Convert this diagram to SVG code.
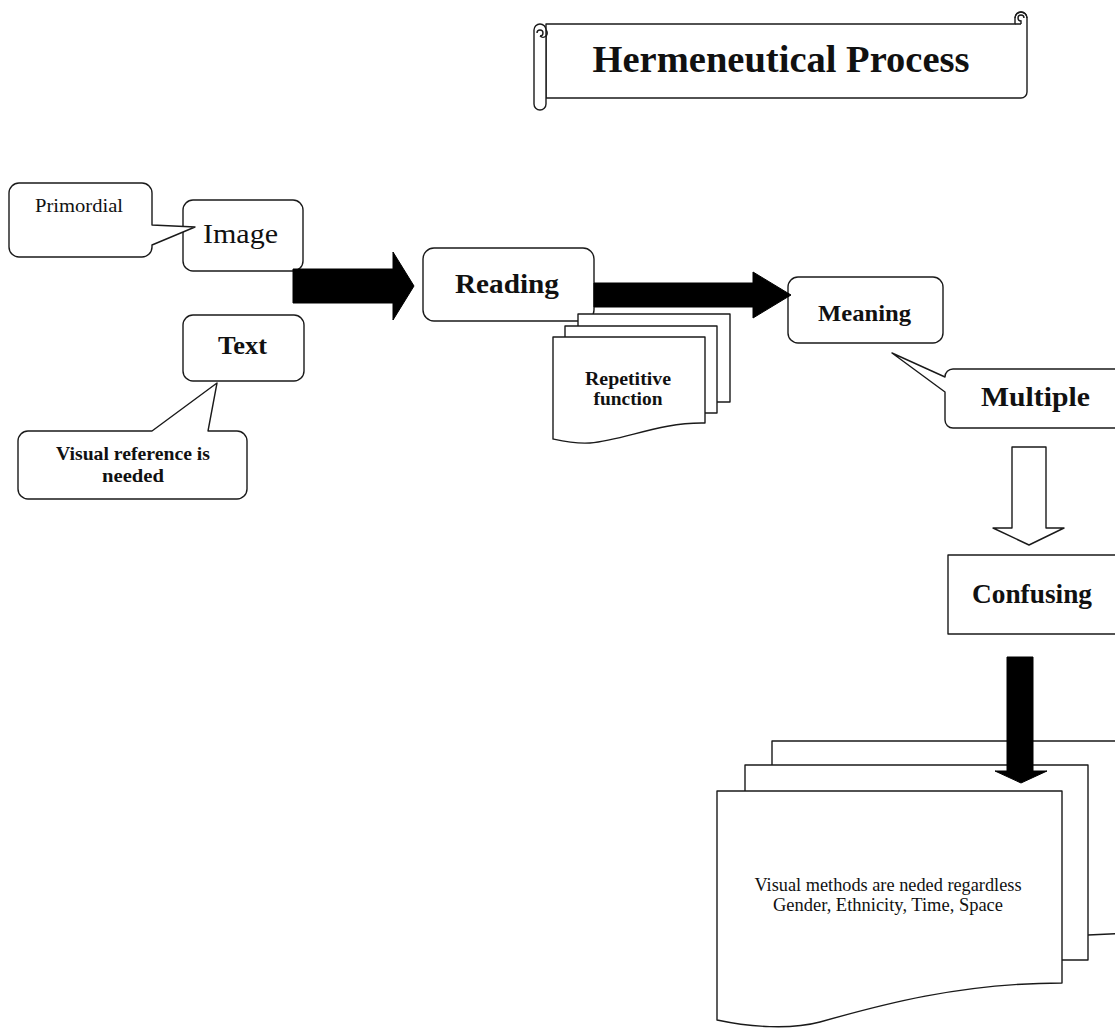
<svg xmlns="http://www.w3.org/2000/svg" width="1115" height="1028" viewBox="0 0 1115 1028">
<style>
.sh{fill:#fff;stroke:#1a1a1a;stroke-width:1.4;stroke-linejoin:round}
.ln{fill:none;stroke:#1a1a1a;stroke-width:1.4}
.t{font-family:"Liberation Serif","Times New Roman",serif;fill:#111;text-anchor:middle}
.b{font-weight:bold}
.blk{fill:#000;stroke:#000;stroke-width:1}
</style>
<rect width="1115" height="1028" fill="#fff"/>
<g id="title">
  <path class="sh" d="M546,24 H1015 V18 A6,6 0 0 1 1027,18 V92 A6,6 0 0 1 1021,98 H546 Z"/>
  <path class="ln" d="M1015,18 A6,6 0 0 1 1027,18 M1021,24 V21 A3,3 0 1 1 1024,18 M1015,24 H1021"/>
  <path class="sh" d="M534,30 A6,6 0 0 1 546,30 V104 A6,6 0 0 1 534,104 Z"/>
  <path class="ln" d="M540,36 A3,3 0 1 0 537,33 M540,36 A3,3 0 0 0 546,30"/>
  <text class="t b" x="781" y="72" font-size="38" textLength="377" lengthAdjust="spacingAndGlyphs">Hermeneutical Process</text>
</g>
<g id="image">
  <rect class="sh" x="183" y="200" width="120" height="71" rx="10"/>
  <text class="t" x="240.5" y="243" font-size="28" textLength="75" lengthAdjust="spacingAndGlyphs">Image</text>
</g>
<g id="primordial">
  <path class="sh" d="M19,183 H142 A10,10 0 0 1 152,193 V225 L195,227 L152,245 V247 A10,10 0 0 1 142,257 H19 A10,10 0 0 1 9,247 V193 A10,10 0 0 1 19,183 Z"/>
  <text class="t" x="79" y="212" font-size="19" textLength="88" lengthAdjust="spacingAndGlyphs">Primordial</text>
</g>
<g id="text">
  <rect class="sh" x="183" y="315" width="121" height="66" rx="10"/>
  <text class="t b" x="242.5" y="354" font-size="25" textLength="49" lengthAdjust="spacingAndGlyphs">Text</text>
</g>
<g id="visual-reference">
  <path class="sh" d="M28,431 H152 L217,383 L208,431 H237 A10,10 0 0 1 247,441 V489 A10,10 0 0 1 237,499 H28 A10,10 0 0 1 18,489 V441 A10,10 0 0 1 28,431 Z"/>
  <text class="t b" x="133" y="460" font-size="19" textLength="154" lengthAdjust="spacingAndGlyphs">Visual reference is</text>
  <text class="t b" x="133" y="482" font-size="19" textLength="62" lengthAdjust="spacingAndGlyphs">needed</text>
</g>
<g id="reading">
  <rect class="sh" x="423" y="248" width="171" height="73" rx="11"/>
  <text class="t b" x="507" y="293" font-size="27" textLength="104" lengthAdjust="spacingAndGlyphs">Reading</text>
</g>
<g id="repetitive">
  <rect class="sh" x="578" y="314" width="152" height="88"/>
  <rect class="sh" x="565" y="326" width="152" height="87"/>
  <path class="sh" d="M553,337 H705 V423 C660,422 625,440 590,443 C575,444 562,441 553,439 Z"/>
  <text class="t b" x="628" y="385" font-size="18" textLength="86" lengthAdjust="spacingAndGlyphs">Repetitive</text>
  <text class="t b" x="628" y="405" font-size="18" textLength="69" lengthAdjust="spacingAndGlyphs">function</text>
</g>
<g id="meaning">
  <rect class="sh" x="788" y="277" width="155" height="66" rx="10"/>
  <text class="t b" x="864.5" y="321" font-size="23" textLength="93" lengthAdjust="spacingAndGlyphs">Meaning</text>
</g>
<g id="multiple">
  <path class="sh" d="M953,369 H1130 V428 H953 A8,8 0 0 1 945,420 V392 L892,353 L945,377 A8,8 0 0 1 953,369 Z"/>
  <text class="t b" x="1035.5" y="406" font-size="27" textLength="109" lengthAdjust="spacingAndGlyphs">Multiple</text>
</g>
<g id="confusing">
  <rect class="sh" x="948" y="555" width="180" height="79"/>
  <text class="t b" x="1032" y="603" font-size="27.5" textLength="120" lengthAdjust="spacingAndGlyphs">Confusing</text>
</g>
<g id="visual-methods">
  <path class="sh" d="M772,741 H1130 V933 L1088,935 L772,935 Z"/>
  <rect class="sh" x="745" y="765" width="343" height="195"/>
  <path class="sh" d="M717,791 H1062 V983 C960,983 880,1005 820,1022 C790,1030 750,1027 717,1020 Z"/>
  <text class="t" x="888" y="891" font-size="18" textLength="267" lengthAdjust="spacingAndGlyphs">Visual methods are neded regardless</text>
  <text class="t" x="888" y="911" font-size="18" textLength="230" lengthAdjust="spacingAndGlyphs">Gender, Ethnicity, Time, Space</text>
</g>
<g id="connectors">
  <path class="blk" d="M293,269 H393 V252 L414,286 L393,320 V303 H293 Z"/>
  <path class="blk" d="M594,283 H753 V272 L791,295 L753,318 V307 H594 Z"/>
  <path class="sh" d="M1012,447 H1046 V528 H1064 L1029,545 L993,528 H1012 Z"/>
  <path class="blk" d="M1007,657 H1033 V771 H1047 L1021,783 L995,771 H1007 Z"/>
</g>
</svg>
